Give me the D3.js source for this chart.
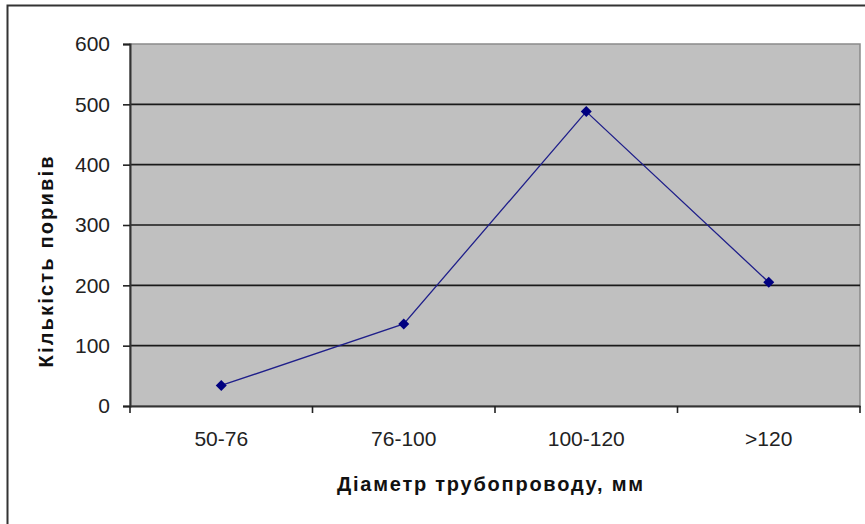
<!DOCTYPE html>
<html>
<head>
<meta charset="utf-8">
<script src="https://cdn.jsdelivr.net/npm/d3@7"></script>
<style>
  html, body { margin: 0; padding: 0; background: #fff; }
  svg { display: block; }
</style>
</head>
<body>
<svg id="chart" width="865" height="524"></svg>
<script>
// Pipe diameter classes and number of bursts per class
const categories = ["50-76", "76-100", "100-120", ">120"];
const bursts = [34, 136, 488, 205];
const yTicks = [0, 100, 200, 300, 400, 500, 600];

const svg = d3.select("#chart");
const W = 865, H = 524;
const plot = { left: 130, right: 860, top: 44, bottom: 406 };
const font = "Liberation Sans, Arial, sans-serif";

// Outer chart frame (only top and left edges fall inside the view)
svg.append("rect")
  .attr("x", 7.5).attr("y", 5.5)
  .attr("width", W + 20).attr("height", H + 20)
  .attr("fill", "#fff").attr("stroke", "#333").attr("stroke-width", 2);

const x = d3.scaleBand().domain(categories).range([plot.left, plot.right]).padding(0);
const y = d3.scaleLinear().domain([0, 600]).range([plot.bottom, plot.top]);

// Plot area background
svg.append("rect")
  .attr("x", plot.left).attr("y", plot.top)
  .attr("width", plot.right - plot.left).attr("height", plot.bottom - plot.top)
  .attr("fill", "#c0c0c0")
  .attr("stroke", "#8a8a8a").attr("stroke-width", 1.5);

// Horizontal gridlines
svg.append("g")
  .selectAll("line")
  .data(yTicks.filter(d => d > 0 && d < 600))
  .join("line")
  .attr("x1", plot.left).attr("x2", plot.right)
  .attr("y1", d => y(d)).attr("y2", d => y(d))
  .attr("stroke", "#1a1a1a").attr("stroke-width", 1.6);

// Y axis
const yAxis = svg.append("g")
  .attr("transform", `translate(${plot.left},0)`)
  .call(d3.axisLeft(y).tickValues(yTicks).tickSize(7).tickPadding(13));
yAxis.select(".domain").attr("stroke", "#333").attr("stroke-width", 2);
yAxis.selectAll(".tick line").attr("stroke", "#222").attr("stroke-width", 1.6);
yAxis.selectAll("text")
  .attr("font-family", font)
  .attr("font-size", 21).attr("fill", "#222");

// X axis with tick marks on category boundaries
const xAxis = svg.append("g")
  .attr("transform", `translate(0,${plot.bottom})`)
  .call(d3.axisBottom(x).tickSize(0).tickPadding(25));
xAxis.select(".domain").attr("stroke", "#333").attr("stroke-width", 2);
xAxis.selectAll("text")
  .attr("font-family", font)
  .attr("font-size", 21).attr("fill", "#222");

const boundaries = categories.map(c => x(c)).concat([plot.right]);
svg.append("g")
  .selectAll("line")
  .data(boundaries)
  .join("line")
  .attr("x1", d => d).attr("x2", d => d)
  .attr("y1", plot.bottom).attr("y2", plot.bottom + 7)
  .attr("stroke", "#222").attr("stroke-width", 1.6);

// Data line
const pts = categories.map((c, i) => [x(c) + x.bandwidth() / 2, y(bursts[i])]);
svg.append("path")
  .attr("d", d3.line()(pts))
  .attr("fill", "none")
  .attr("stroke", "#1f1f8a").attr("stroke-width", 1.3);

// Diamond markers
svg.append("g")
  .selectAll("path")
  .data(pts)
  .join("path")
  .attr("transform", d => `translate(${d[0]},${d[1]})`)
  .attr("d", d3.symbol(d3.symbolDiamond2, 78))
  .attr("fill", "#000080");

// Axis titles
svg.append("text")
  .attr("x", 490).attr("y", 491)
  .attr("text-anchor", "middle")
  .attr("font-family", font)
  .attr("font-weight", "bold").attr("font-size", 20)
  .attr("textLength", 306).attr("lengthAdjust", "spacing")
  .attr("fill", "#111")
  .text("Діаметр трубопроводу, мм");

svg.append("text")
  .attr("transform", "translate(53,262) rotate(-90)")
  .attr("text-anchor", "middle")
  .attr("font-family", font)
  .attr("font-weight", "bold").attr("font-size", 20)
  .attr("textLength", 211).attr("lengthAdjust", "spacing")
  .attr("fill", "#111")
  .text("Кількість поривів");
</script>
</body>
</html>
